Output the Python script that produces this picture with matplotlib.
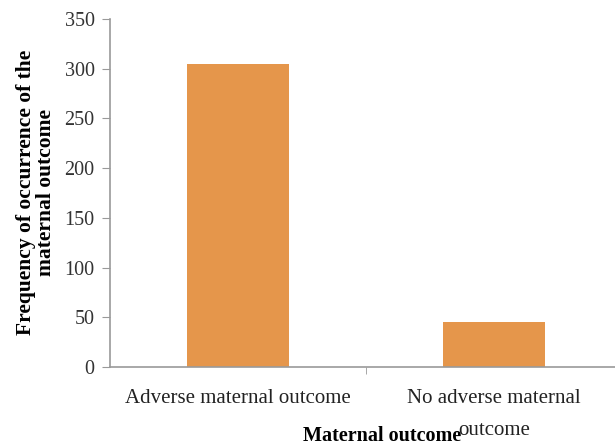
import matplotlib
matplotlib.use("Agg")
import matplotlib.pyplot as plt

categories = ["Adverse maternal outcome", "No adverse maternal\noutcome"]
frequencies = [305, 45]
y_ticks = [0, 50, 100, 150, 200, 250, 300, 350]

plt.rcParams["font.family"] = ["Liberation Serif", "DejaVu Serif"]

fig = plt.figure(figsize=(6.15, 4.48), dpi=100)
ax = fig.add_axes([110 / 615, (448 - 367) / 448, (615 - 110) / 615, 348 / 448])

x = list(range(len(categories)))
ax.bar(x, frequencies, width=0.4, color="#E5964B")

ax.set_ylim(0, 350)
ax.set_xlim(-0.5, 1.5 - 7 / 256)
ax.set_yticks(y_ticks)
ax.set_yticklabels([str(v) for v in y_ticks], fontsize=14.5, color="#333333")

# first line of each category as the tick label, wrapped remainder set below it
first_lines = [c.split("\n")[0] for c in categories]
ax.set_xticks(x)
ax.set_xticklabels(first_lines, fontsize=15, color="#222222")
ax.tick_params(axis="x", length=0, pad=16)
for xi, cat in zip(x, categories):
    rest = cat.split("\n")[1:]
    for k, line in enumerate(rest, start=1):
        ax.annotate(line, xy=(xi, 0), xycoords=("data", "axes fraction"),
                    xytext=(0, -24 - 21.5 * k), textcoords="offset points",
                    ha="center", va="center", fontsize=15, color="#222222")

ax.set_xticks([0.5], minor=True)
ax.tick_params(axis="x", which="minor", length=5, color="#999999")
ax.tick_params(axis="y", length=6, color="#999999", pad=5)

for side in ["top", "right"]:
    ax.spines[side].set_visible(False)
for side in ["left", "bottom"]:
    ax.spines[side].set_color("#9a9a9a")
    ax.spines[side].set_linewidth(1.2)

fig.text(382 / 615, 2 / 448, "Maternal outcome", fontsize=14.5,
         fontweight="bold", ha="center", va="bottom")
fig.text(36 / 615, 1 - 192 / 448, "Frequency of occurrence of the\nmaternal outcome",
         fontsize=15.5, fontweight="bold", ha="center", va="center",
         rotation=90, linespacing=1.05)

fig.savefig("out.png", dpi=100)
